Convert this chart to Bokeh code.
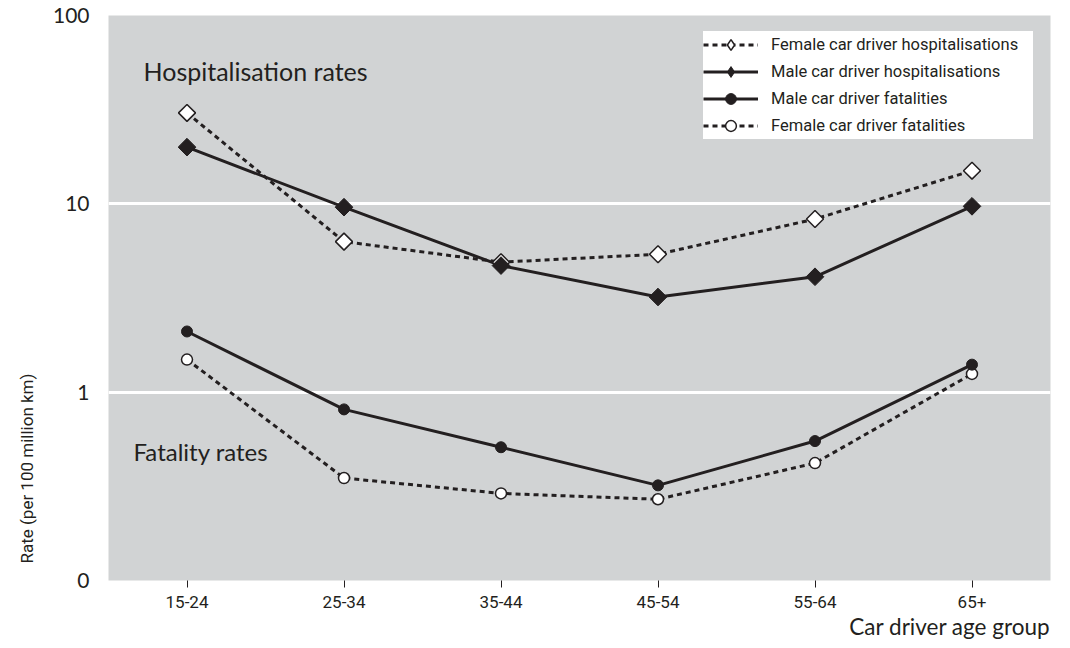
import math
from bokeh.plotting import figure
from bokeh.models import Range1d, FactorRange, FixedTicker, Label, Legend, LegendItem, Title
from bokeh.embed import file_html
from bokeh.resources import INLINE

age_groups = ["15-24", "25-34", "35-44", "45-54", "55-64", "65+"]
female_hosp = [30.4, 6.3, 4.9, 5.4, 8.3, 15.0]
male_hosp = [20.0, 9.6, 4.7, 3.2, 4.1, 9.7]
male_fat = [2.1, 0.81, 0.51, 0.32, 0.55, 1.40]
female_fat = [1.49, 0.35, 0.29, 0.27, 0.42, 1.25]
y_ticks = [0.1, 1.0, 10.0, 100.0]
y_tick_labels = ["0", "1", "10", "100"]
grid_ticks = [1.0, 10.0]

INK = "#231f20"
BG = "#d1d3d4"

p = figure(width=1062, height=640,
           x_range=FactorRange(*age_groups, range_padding=0),
           y_range=Range1d(0.1, 100), y_axis_type="log",
           output_backend="svg", toolbar_location=None,
           min_border_left=108, min_border_right=12,
           min_border_top=15, min_border_bottom=60)

p.background_fill_color = BG
p.border_fill_color = "white"
p.outline_line_color = None
p.xgrid.visible = False
p.ygrid.ticker = FixedTicker(ticks=grid_ticks)
p.ygrid.grid_line_color = "white"
p.ygrid.grid_line_width = 3

# y axis
p.yaxis.ticker = FixedTicker(ticks=y_ticks)
p.yaxis.major_label_overrides = dict(zip(y_ticks, y_tick_labels))
p.yaxis.axis_line_color = None
p.yaxis.major_tick_line_color = None
p.yaxis.minor_tick_line_color = None
p.yaxis.major_label_standoff = 13
p.yaxis.major_label_text_font = "Lato"
p.yaxis.major_label_text_font_size = "21px"
p.yaxis.major_label_text_color = INK

# x axis
p.xaxis.axis_line_color = None
p.xaxis.major_tick_in = 0
p.xaxis.major_tick_out = 7
p.xaxis.major_tick_line_color = INK
p.xaxis.major_tick_line_width = 1
p.xaxis.major_label_standoff = 8
p.xaxis.major_label_text_font = "Roboto"
p.xaxis.major_label_text_font_size = "17px"
p.xaxis.major_label_text_color = INK

DASH = "5 4"

l1 = p.line(age_groups, female_hosp, line_color=INK, line_width=3, line_dash=DASH)
l2 = p.line(age_groups, male_hosp, line_color=INK, line_width=3)
l4 = p.line(age_groups, female_fat, line_color=INK, line_width=3, line_dash=DASH)
l3 = p.line(age_groups, male_fat, line_color=INK, line_width=3)

s1 = p.scatter(age_groups, female_hosp, marker="square", angle=math.pi / 4, size=12,
               fill_color="white", line_color=INK, line_width=1.5)
s2 = p.scatter(age_groups, male_hosp, marker="square", angle=math.pi / 4, size=12.5,
               fill_color=INK, line_color=INK, line_width=1)
s4 = p.scatter(age_groups, female_fat, marker="circle", size=11,
               fill_color="white", line_color=INK, line_width=1.5)
s3 = p.scatter(age_groups, male_fat, marker="circle", size=11,
               fill_color=INK, line_color=INK, line_width=1)

# legend-only diamond markers (legend glyphs ignore marker angle)
k1 = p.scatter(age_groups, female_hosp, marker="diamond", size=12,
               fill_color="white", line_color=INK, line_width=1.5, visible=False)
k2 = p.scatter(age_groups, male_hosp, marker="diamond", size=12,
               fill_color=INK, line_color=INK, line_width=1, visible=False)

legend = Legend(items=[
    LegendItem(label="Female car driver hospitalisations", renderers=[l1, k1]),
    LegendItem(label="Male car driver hospitalisations", renderers=[l2, k2]),
    LegendItem(label="Male car driver fatalities", renderers=[l3, s3]),
    LegendItem(label="Female car driver fatalities", renderers=[l4, s4]),
], location=(595, 441))
legend.background_fill_color = "white"
legend.background_fill_alpha = 1
legend.border_line_color = None
legend.label_text_font = "Roboto"
legend.label_text_font_size = "16.5px"
legend.label_text_color = INK
legend.glyph_width = 55
legend.glyph_height = 27
legend.label_height = 18
legend.label_width = 262
legend.label_standoff = 13
legend.spacing = 0
legend.padding = 3
legend.margin = 0
p.add_layout(legend)

p.add_layout(Label(x=35, y=510, x_units="screen", y_units="screen",
                   text="Hospitalisation rates", text_font="Lato",
                   text_font_size="25px", text_color=INK, text_baseline="middle"))
p.add_layout(Label(x=25, y=129, x_units="screen", y_units="screen",
                   text="Fatality rates", text_font="Lato",
                   text_font_size="24px", text_color=INK, text_baseline="middle"))

ytitle = Title(text="Rate (per 100 million km)", align="left", offset=17,
               text_font="Roboto", text_font_size="17px", text_color=INK,
               text_font_style="normal")
if "standoff" in ytitle.properties():
    ytitle.standoff = 26
p.add_layout(ytitle, "left")

xtitle = Title(text="Car driver age group", align="right", offset=0,
               text_font="Lato", text_font_size="22.5px", text_color=INK,
               text_font_style="normal")
if "standoff" in xtitle.properties():
    xtitle.standoff = 0
p.add_layout(xtitle, "below")

open("out.html", "w").write(file_html(p, INLINE))
